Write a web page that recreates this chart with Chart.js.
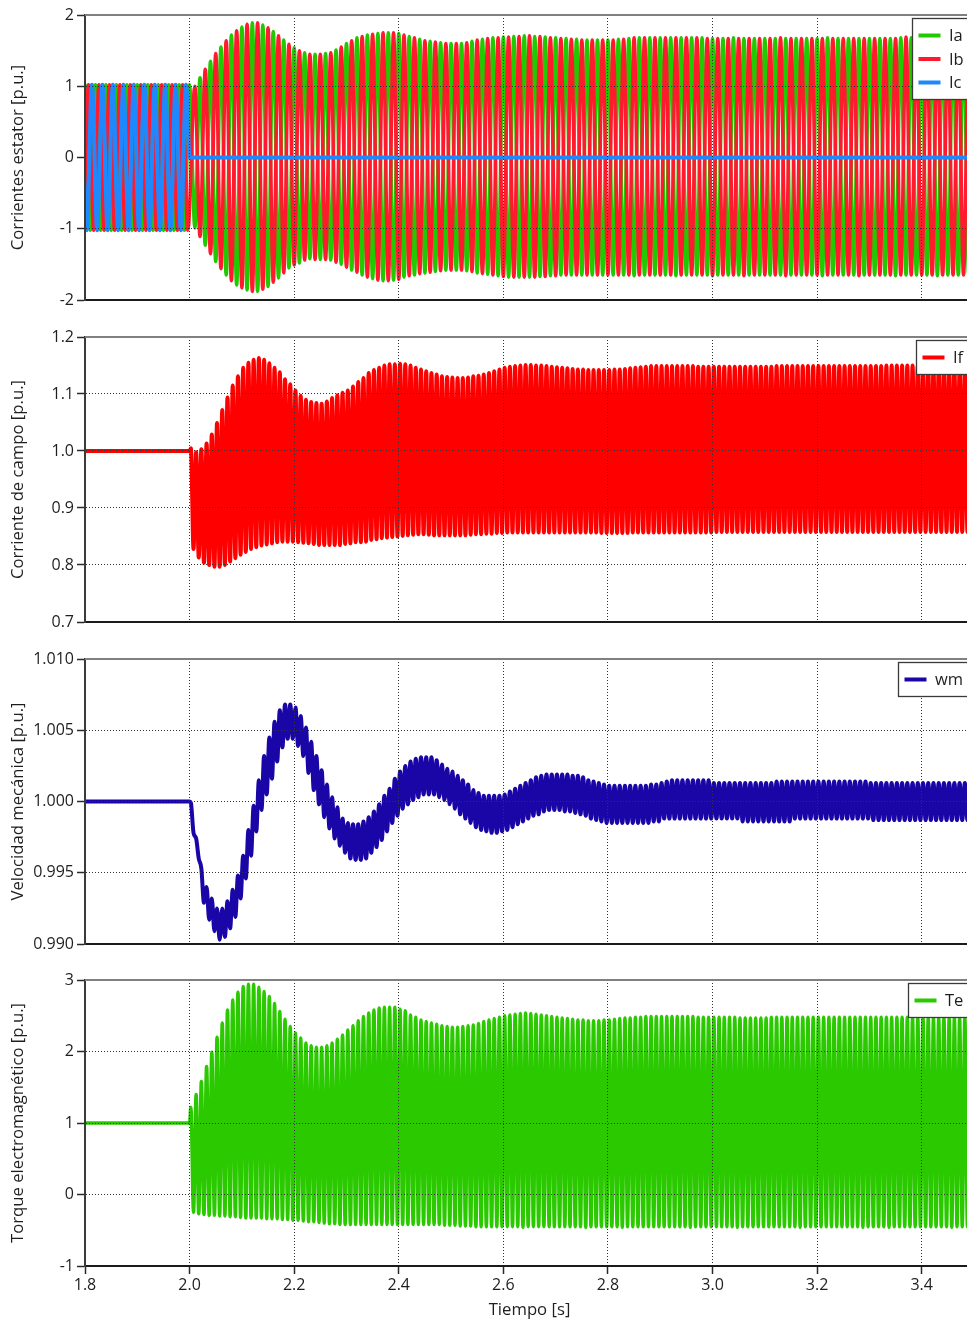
<!DOCTYPE html>
<html>
<head>
<meta charset="utf-8">
<script src="https://cdn.jsdelivr.net/npm/chart.js@4.4.0/dist/chart.umd.min.js"></script>
<style>
html, body { margin: 0; padding: 0; background: #fff; overflow: hidden; width: 967px; height: 1321px; }
canvas { position: absolute; left: 0; }
</style>
</head>
<body>
<canvas id="c1" width="990" height="310" style="top:0px"></canvas>
<canvas id="c2" width="990" height="310" style="top:322px"></canvas>
<canvas id="c3" width="990" height="310" style="top:644px"></canvas>
<canvas id="c4" width="990" height="356" style="top:965px"></canvas>
<script>
// ---------------- data ----------------
const xTicks = [1.8, 2.0, 2.2, 2.4, 2.6, 2.8, 3.0, 3.2, 3.4];
const iTicks = [-2, -1, 0, 1, 2];
const ifTicks = [0.7, 0.8, 0.9, 1.0, 1.1, 1.2];
const wmTicks = [0.990, 0.995, 1.000, 1.005, 1.010];
const teTicks = [-1, 0, 1, 2, 3];

const tStart = 1.8;        // start of the record [s]
const tEnd = 3.5;          // end of the record [s]
const faultTime = 2.0;     // disturbance instant [s]
const envStart = 2.0;      // first post-fault reading [s]
const envStep = 0.01;      // one peak / trough reading every 0.01 s

// pre-fault steady state values
const iPreAmp = 1.02;      // stator phase current amplitude
const icPost = 0;          // phase c current after the fault
const ifPre = 1.0;
const wmPre = 1.0;
const tePre = 1.0;

// Stator currents: successive positive peaks / negative peaks (one per half cycle of 50 Hz)
const iUpper = [
  1.00,1.12,1.24,1.35,1.46,1.55,1.64,1.72,1.78,1.83,
  1.87,1.89,1.89,1.86,1.82,1.77,1.71,1.65,1.59,1.54,
  1.50,1.47,1.45,1.45,1.45,1.46,1.47,1.51,1.55,1.60,
  1.64,1.68,1.70,1.72,1.73,1.74,1.75,1.75,1.75,1.74,
  1.72,1.70,1.68,1.66,1.64,1.63,1.62,1.61,1.60,1.60,
  1.60,1.60,1.61,1.63,1.65,1.66,1.67,1.68,1.68,1.69,
  1.69,1.70,1.70,1.71,1.71,1.70,1.70,1.69,1.68,1.68,
  1.67,1.67,1.66,1.66,1.65,1.65,1.65,1.65,1.65,1.65,
  1.65,1.66,1.66,1.67,1.68,1.68,1.68,1.68,1.68,1.68,
  1.68,1.68,1.68,1.68,1.68,1.68,1.68,1.68,1.67,1.67,
  1.67,1.67,1.67,1.68,1.67,1.67,1.67,1.67,1.67,1.67,
  1.67,1.67,1.68,1.67,1.67,1.67,1.67,1.67,1.67,1.67,
  1.67,1.68,1.67,1.67,1.67,1.67,1.67,1.67,1.67,1.67,
  1.67,1.67,1.67,1.67,1.67,1.68,1.69,1.68,1.67,1.67,
  1.67,1.67,1.67,1.67,1.67,1.67,1.67,1.67,1.67,1.67];
const iLower = [
  -0.99,-1.11,-1.23,-1.35,-1.46,-1.56,-1.65,-1.73,-1.79,-1.83,
  -1.86,-1.88,-1.88,-1.85,-1.81,-1.75,-1.69,-1.62,-1.55,-1.51,
  -1.48,-1.44,-1.42,-1.43,-1.43,-1.43,-1.44,-1.47,-1.50,-1.54,
  -1.58,-1.61,-1.65,-1.68,-1.70,-1.72,-1.73,-1.73,-1.72,-1.71,
  -1.68,-1.66,-1.65,-1.63,-1.62,-1.61,-1.60,-1.59,-1.58,-1.58,
  -1.58,-1.58,-1.59,-1.60,-1.62,-1.63,-1.64,-1.65,-1.66,-1.67,
  -1.68,-1.68,-1.68,-1.68,-1.68,-1.68,-1.67,-1.67,-1.66,-1.66,
  -1.65,-1.65,-1.65,-1.65,-1.65,-1.65,-1.65,-1.65,-1.65,-1.65,
  -1.65,-1.65,-1.65,-1.65,-1.66,-1.65,-1.65,-1.65,-1.65,-1.65,
  -1.65,-1.65,-1.66,-1.65,-1.65,-1.65,-1.65,-1.65,-1.65,-1.66,
  -1.65,-1.65,-1.65,-1.65,-1.65,-1.66,-1.65,-1.65,-1.65,-1.65,
  -1.65,-1.65,-1.65,-1.66,-1.65,-1.65,-1.65,-1.65,-1.65,-1.65,
  -1.66,-1.65,-1.65,-1.65,-1.65,-1.65,-1.65,-1.66,-1.65,-1.65,
  -1.65,-1.65,-1.65,-1.65,-1.66,-1.65,-1.65,-1.65,-1.65,-1.65,
  -1.65,-1.65,-1.66,-1.65,-1.65,-1.65,-1.65,-1.65,-1.65,-1.65];

// Field current (100 Hz ripple): peak and trough of each cycle
const ifUpper = [
  1.005,0.998,1.003,1.013,1.029,1.049,1.072,1.094,1.115,1.131,
  1.146,1.155,1.160,1.163,1.160,1.154,1.146,1.138,1.126,1.117,
  1.106,1.097,1.090,1.086,1.084,1.083,1.087,1.093,1.098,1.102,
  1.106,1.113,1.121,1.128,1.137,1.142,1.146,1.150,1.152,1.152,
  1.153,1.152,1.150,1.146,1.143,1.140,1.137,1.134,1.131,1.130,
  1.129,1.128,1.128,1.129,1.131,1.132,1.134,1.137,1.140,1.143,
  1.146,1.148,1.149,1.150,1.151,1.151,1.150,1.150,1.149,1.148,
  1.147,1.146,1.145,1.144,1.143,1.143,1.142,1.142,1.142,1.142,
  1.142,1.143,1.143,1.144,1.145,1.146,1.147,1.148,1.149,1.149,
  1.149,1.149,1.149,1.149,1.149,1.149,1.149,1.148,1.148,1.148,
  1.148,1.148,1.148,1.148,1.148,1.148,1.148,1.148,1.148,1.148,
  1.148,1.148,1.149,1.149,1.149,1.149,1.149,1.149,1.149,1.149,
  1.149,1.149,1.149,1.149,1.149,1.149,1.149,1.149,1.149,1.149,
  1.149,1.149,1.149,1.150,1.150,1.150,1.150,1.150,1.150,1.149,
  1.149,1.148,1.148,1.148,1.148,1.148,1.148,1.148,1.148,1.148];
const ifLower = [
  0.828,0.813,0.804,0.800,0.797,0.797,0.800,0.806,0.812,0.818,
  0.823,0.828,0.831,0.834,0.836,0.838,0.840,0.841,0.841,0.841,
  0.840,0.839,0.838,0.837,0.835,0.835,0.835,0.835,0.835,0.837,
  0.838,0.840,0.840,0.841,0.844,0.845,0.847,0.848,0.849,0.850,
  0.851,0.852,0.853,0.854,0.854,0.853,0.852,0.852,0.852,0.852,
  0.852,0.852,0.852,0.853,0.854,0.854,0.855,0.855,0.856,0.856,
  0.857,0.857,0.857,0.857,0.857,0.857,0.857,0.857,0.857,0.857,
  0.857,0.857,0.857,0.857,0.857,0.857,0.857,0.857,0.856,0.856,
  0.856,0.856,0.856,0.856,0.857,0.857,0.857,0.857,0.857,0.857,
  0.857,0.857,0.857,0.857,0.857,0.857,0.857,0.857,0.857,0.857,
  0.858,0.858,0.858,0.858,0.858,0.858,0.858,0.858,0.858,0.858,
  0.858,0.858,0.858,0.858,0.858,0.858,0.858,0.858,0.858,0.858,
  0.858,0.858,0.858,0.858,0.858,0.858,0.858,0.858,0.858,0.858,
  0.858,0.858,0.858,0.858,0.858,0.858,0.858,0.858,0.858,0.858,
  0.858,0.858,0.858,0.858,0.858,0.858,0.858,0.858,0.858,0.858];

// Mechanical speed (100 Hz ripple): peak and trough of each cycle
const wmUpper = [
  0.9999,0.9974,0.9953,0.9940,0.9932,0.9925,0.9925,0.9930,0.9938,0.9948,
  0.9962,0.9980,0.9997,1.0015,1.0032,1.0045,1.0056,1.0064,1.0068,1.0068,
  1.0066,1.0060,1.0052,1.0042,1.0032,1.0022,1.0012,1.0003,0.9996,0.9988,
  0.9985,0.9984,0.9984,0.9986,0.9989,0.9993,0.9998,1.0004,1.0009,1.0016,
  1.0021,1.0025,1.0028,1.0030,1.0031,1.0031,1.0031,1.0029,1.0026,1.0023,
  1.0021,1.0018,1.0015,1.0012,1.0008,1.0006,1.0004,1.0004,1.0004,1.0004,
  1.0005,1.0007,1.0009,1.0011,1.0013,1.0015,1.0017,1.0018,1.0019,1.0019,
  1.0019,1.0019,1.0019,1.0018,1.0018,1.0017,1.0015,1.0014,1.0013,1.0012,
  1.0011,1.0011,1.0011,1.0011,1.0011,1.0011,1.0011,1.0011,1.0012,1.0012,
  1.0013,1.0014,1.0015,1.0015,1.0015,1.0015,1.0015,1.0015,1.0015,1.0015,
  1.0013,1.0013,1.0013,1.0013,1.0013,1.0013,1.0013,1.0013,1.0013,1.0013,
  1.0013,1.0013,1.0014,1.0014,1.0014,1.0014,1.0014,1.0014,1.0014,1.0014,
  1.0014,1.0014,1.0014,1.0014,1.0014,1.0014,1.0014,1.0014,1.0014,1.0014,
  1.0013,1.0013,1.0013,1.0013,1.0013,1.0013,1.0013,1.0013,1.0013,1.0013,
  1.0013,1.0013,1.0013,1.0013,1.0013,1.0013,1.0013,1.0013,1.0013,1.0013];
const wmLower = [
  0.9978,0.9960,0.9929,0.9917,0.9909,0.9903,0.9905,0.9911,0.9919,0.9932,
  0.9946,0.9962,0.9979,0.9994,1.0005,1.0016,1.0028,1.0038,1.0044,1.0044,
  1.0039,1.0032,1.0020,1.0008,0.9998,0.9989,0.9981,0.9974,0.9969,0.9964,
  0.9960,0.9959,0.9959,0.9960,0.9964,0.9968,0.9973,0.9979,0.9985,0.9990,
  0.9995,0.9998,1.0001,1.0003,1.0005,1.0005,1.0005,1.0003,1.0001,0.9998,
  0.9995,0.9991,0.9988,0.9985,0.9982,0.9980,0.9979,0.9978,0.9978,0.9979,
  0.9980,0.9982,0.9984,0.9986,0.9988,0.9990,0.9991,0.9993,0.9994,0.9994,
  0.9994,0.9993,0.9993,0.9992,0.9991,0.9990,0.9988,0.9987,0.9986,0.9985,
  0.9985,0.9985,0.9985,0.9985,0.9985,0.9985,0.9985,0.9985,0.9986,0.9986,
  0.9988,0.9988,0.9988,0.9988,0.9988,0.9988,0.9988,0.9988,0.9988,0.9988,
  0.9988,0.9988,0.9988,0.9988,0.9988,0.9986,0.9986,0.9986,0.9986,0.9986,
  0.9986,0.9986,0.9986,0.9986,0.9986,0.9988,0.9988,0.9988,0.9988,0.9988,
  0.9988,0.9988,0.9988,0.9988,0.9988,0.9988,0.9988,0.9988,0.9988,0.9988,
  0.9987,0.9987,0.9987,0.9987,0.9987,0.9987,0.9987,0.9987,0.9987,0.9987,
  0.9987,0.9987,0.9987,0.9987,0.9987,0.9987,0.9987,0.9987,0.9987,0.9987];

// Electromagnetic torque (100 Hz ripple): peak and trough of each cycle
const teUpper = [
  1.22,1.40,1.58,1.79,1.99,2.20,2.40,2.58,2.72,2.83,
  2.91,2.94,2.94,2.90,2.84,2.77,2.67,2.56,2.45,2.35,
  2.26,2.19,2.12,2.08,2.06,2.06,2.08,2.12,2.17,2.23,
  2.30,2.36,2.43,2.49,2.54,2.58,2.61,2.62,2.62,2.62,
  2.59,2.57,2.51,2.48,2.44,2.42,2.40,2.38,2.36,2.35,
  2.34,2.34,2.35,2.36,2.37,2.39,2.42,2.44,2.46,2.48,
  2.50,2.51,2.52,2.53,2.54,2.53,2.52,2.51,2.50,2.49,
  2.48,2.47,2.46,2.45,2.44,2.44,2.43,2.43,2.43,2.44,
  2.44,2.45,2.46,2.47,2.47,2.48,2.48,2.49,2.49,2.49,
  2.49,2.49,2.49,2.49,2.49,2.49,2.49,2.48,2.48,2.48,
  2.48,2.48,2.48,2.48,2.48,2.47,2.47,2.47,2.47,2.47,
  2.47,2.48,2.48,2.48,2.48,2.48,2.48,2.48,2.48,2.48,
  2.48,2.48,2.48,2.48,2.48,2.48,2.48,2.48,2.48,2.48,
  2.48,2.48,2.48,2.48,2.48,2.48,2.48,2.48,2.47,2.47,
  2.47,2.47,2.47,2.47,2.47,2.47,2.47,2.47,2.47,2.47];
const teLower = [
  -0.25,-0.27,-0.28,-0.29,-0.29,-0.30,-0.30,-0.31,-0.31,-0.32,
  -0.33,-0.33,-0.33,-0.33,-0.34,-0.34,-0.34,-0.35,-0.35,-0.36,
  -0.36,-0.37,-0.38,-0.38,-0.39,-0.40,-0.41,-0.41,-0.42,-0.42,
  -0.42,-0.42,-0.42,-0.42,-0.42,-0.42,-0.42,-0.42,-0.42,-0.42,
  -0.42,-0.42,-0.42,-0.42,-0.42,-0.42,-0.42,-0.42,-0.43,-0.43,
  -0.43,-0.44,-0.44,-0.44,-0.45,-0.45,-0.45,-0.45,-0.45,-0.45,
  -0.45,-0.45,-0.45,-0.46,-0.45,-0.45,-0.45,-0.45,-0.45,-0.45,
  -0.45,-0.45,-0.45,-0.45,-0.45,-0.46,-0.45,-0.45,-0.45,-0.45,
  -0.45,-0.45,-0.46,-0.45,-0.45,-0.45,-0.45,-0.45,-0.45,-0.45,
  -0.45,-0.45,-0.45,-0.45,-0.45,-0.46,-0.45,-0.45,-0.45,-0.45,
  -0.45,-0.45,-0.45,-0.45,-0.46,-0.45,-0.45,-0.45,-0.45,-0.45,
  -0.45,-0.45,-0.45,-0.45,-0.45,-0.45,-0.46,-0.45,-0.45,-0.45,
  -0.45,-0.45,-0.45,-0.45,-0.45,-0.45,-0.45,-0.45,-0.46,-0.45,
  -0.45,-0.45,-0.45,-0.46,-0.45,-0.45,-0.45,-0.45,-0.45,-0.45,
  -0.45,-0.45,-0.45,-0.45,-0.45,-0.46,-0.45,-0.45,-0.45,-0.45];

// ---------------- series construction ----------------
const HALF50 = 0.01;                 // half period of the 50 Hz waveform
const phaseA = 1.78, phaseB = 1.78 + 0.02 / 3, phaseC = 1.78 + 0.04 / 3; // first pre-fault maxima

function prePhase(firstMax, amp) {
  const pts = [];
  for (let j = 0; ; j++) {
    const t = firstMax + j * HALF50;
    if (t > faultTime + 1e-9) break;
    pts.push({ x: t, y: j % 2 === 0 ? amp : -amp });
  }
  return pts;
}
// phase b peaks on even half-cycles, phase a on odd ones (the two currents are in opposition)
function postStator(upperOnEven) {
  return iUpper.map((u, j) => {
    const even = j % 2 === 0;
    return { x: envStart + 0.01 + j * envStep, y: (even === upperOnEven) ? u : iLower[j] };
  });
}
function post100(up, lo) {
  const pts = [];
  up.forEach((u, j) => {
    const t0 = envStart + j * envStep;
    pts.push({ x: t0 + 0.0025, y: u }, { x: t0 + 0.0075, y: lo[j] });
  });
  return pts;
}
function flat(v) { return [{ x: tStart, y: v }, { x: faultTime, y: v }]; }

const iaData = prePhase(phaseA, iPreAmp).concat(postStator(false));
const ibData = prePhase(phaseB, iPreAmp).concat(postStator(true));
const icData = prePhase(phaseC, iPreAmp).concat([{ x: faultTime, y: icPost }, { x: tEnd, y: icPost }]);
const ifData = flat(ifPre).concat(post100(ifUpper, ifLower));
const wmData = flat(wmPre).concat(post100(wmUpper, wmLower));
const teData = flat(tePre).concat(post100(teUpper, teLower));

// ---------------- styling ----------------
const FONT = '"Open Sans", "Noto Sans", "DejaVu Sans", sans-serif';
const TEXT = '#1e1e1e';
const GRID = '#333333';
const AXIS = '#2a2a2a';

const frameTop = {
  id: 'frameTop',
  afterDraw(chart) {
    const { ctx, chartArea: a } = chart;
    ctx.save();
    ctx.strokeStyle = '#808080';
    ctx.lineWidth = 2;
    ctx.beginPath();
    ctx.moveTo(a.left, a.top);
    ctx.lineTo(a.right + 2, a.top);
    ctx.stroke();
    ctx.restore();
  }
};

const boxLegend = {
  id: 'boxLegend',
  afterDraw(chart) {
    const { ctx, chartArea: a } = chart;
    const items = chart.data.datasets.map(d => ({ label: d.label, color: d.borderColor }));
    ctx.save();
    ctx.font = '16.5px ' + FONT;
    const tw = Math.max(...items.map(i => ctx.measureText(i.label).width));
    const w = 6 + 22 + 8.5 + tw + 9;
    const rowH = 23.5;
    const h = 34 + (items.length - 1) * rowH;
    const left = Math.round(a.right - 2 - w) + 0.5;
    const top = Math.round(a.top + 3) + 0.5;
    ctx.fillStyle = '#ffffff';
    ctx.fillRect(left, top, w, h);
    ctx.strokeStyle = '#3a3a3a';
    ctx.lineWidth = 1.3;
    ctx.strokeRect(left, top, w, h);
    items.forEach((it, i) => {
      const y = top + 17 + i * rowH;
      ctx.strokeStyle = it.color;
      ctx.lineWidth = 4;
      ctx.beginPath();
      ctx.moveTo(left + 6, y);
      ctx.lineTo(left + 28, y);
      ctx.stroke();
      ctx.fillStyle = TEXT;
      ctx.textBaseline = 'middle';
      ctx.textAlign = 'left';
      ctx.fillText(it.label, left + 36.5, y + 1);
    });
    ctx.restore();
  }
};

function xScale(showLabels) {
  return {
    type: 'linear', min: tStart, max: tEnd,
    afterBuildTicks: s => { s.ticks = xTicks.map(v => ({ value: v })); },
    afterFit: s => { s.height = showLabels ? 55 : 0; s.paddingLeft = 0; s.paddingRight = 0; },
    ticks: { display: showLabels, callback: v => Number(v).toFixed(1), font: { family: FONT, size: 16 }, color: TEXT, padding: 2, maxRotation: 0, autoSkip: false },
    grid: { color: GRID, lineWidth: 1, z: 1, drawTicks: showLabels, tickLength: 8, tickColor: AXIS, tickWidth: 1.5 },
    border: { display: true, color: '#1a1a1a', width: 2, dash: [1, 2], z: 2 },
    title: { display: showLabels, text: 'Tiempo [s]', font: { family: FONT, size: 16.7 }, color: TEXT, padding: { top: 0, bottom: 0.5 } }
  };
}
function yScale(min, max, ticksArr, dec, title, hideZeroGrid) {
  return {
    type: 'linear', min: min, max: max,
    afterBuildTicks: s => { s.ticks = ticksArr.map(v => ({ value: v })); },
    afterFit: s => { s.width = 85; s.paddingTop = 0; s.paddingBottom = 0; },
    ticks: { callback: v => Number(v).toFixed(dec), font: { family: FONT, size: 16 }, color: TEXT, padding: 3, autoSkip: false },
    grid: {
      color: c => (hideZeroGrid && c.tick && c.tick.value === 0) ? 'rgba(0,0,0,0)' : GRID,
      lineWidth: 1, z: 1, drawTicks: true, tickLength: 8, tickColor: AXIS, tickWidth: 1.5
    },
    border: { display: true, color: '#3a3a3a', width: 2, dash: [1, 2], z: 2 },
    title: { display: true, text: title, font: { family: FONT, size: 16.7 }, color: TEXT, padding: { top: 8.5, bottom: 0 } }
  };
}
function ds(label, data, color, order, width) {
  return { label: label, data: data, borderColor: color, backgroundColor: color, order: order,
           borderWidth: width, pointRadius: 0, fill: false, cubicInterpolationMode: 'monotone' };
}
function makeChart(id, datasets, yOpts, bottomAxis) {
  return new Chart(document.getElementById(id), {
    type: 'line',
    data: { datasets: datasets },
    options: {
      responsive: false, animation: false, events: [],
      layout: { padding: { top: 15, bottom: bottomAxis ? 0 : 10, left: 0, right: 16 } },
      plugins: { legend: { display: false }, tooltip: { enabled: false } },
      scales: { x: xScale(bottomAxis), y: yOpts }
    },
    plugins: [frameTop, boxLegend]
  });
}

makeChart('c1', [
  ds('Ia', iaData, '#22c800', 2, 3.5),
  ds('Ib', ibData, '#ff1a2d', 1, 3.5),
  ds('Ic', icData, '#1e88ff', 0, 4)
], yScale(-2, 2, iTicks, 0, 'Corrientes estator [p.u.]', true), false);

makeChart('c2', [ds('If', ifData, '#ff0000', 0, 4)],
  yScale(0.7, 1.2, ifTicks, 1, 'Corriente de campo [p.u.]', false), false);

makeChart('c3', [ds('wm', wmData, '#1a06a6', 0, 4)],
  yScale(0.990, 1.010, wmTicks, 3, 'Velocidad mecánica [p.u.]', false), false);

makeChart('c4', [ds('Te', teData, '#2bc900', 0, 3.5)],
  yScale(-1, 3, teTicks, 0, 'Torque electromagnético [p.u.]', false), true);
</script>
</body>
</html>
